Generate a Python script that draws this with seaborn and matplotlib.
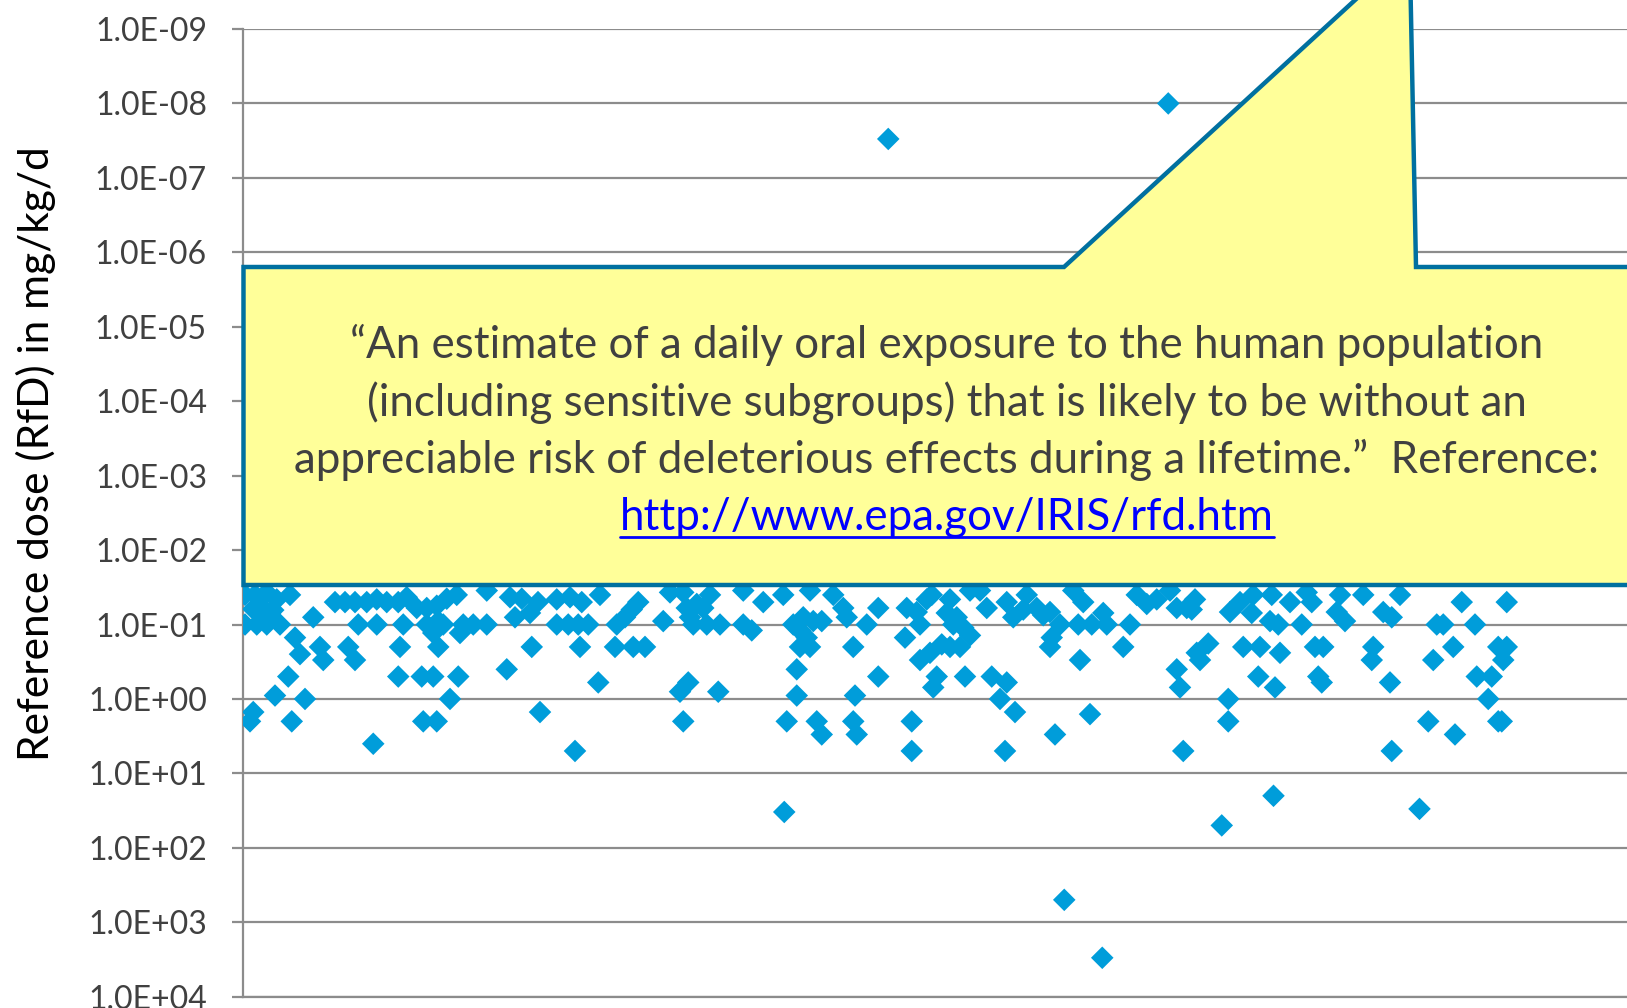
import matplotlib
matplotlib.use("Agg")
import matplotlib.pyplot as plt
import numpy as np
import pandas as pd
import seaborn as sns
from matplotlib.patches import Polygon
from matplotlib.lines import Line2D
from matplotlib.transforms import Affine2D
from matplotlib.ticker import FixedLocator, FuncFormatter, NullLocator

# ---- data: substance number along x, reference dose (mg/kg/d) ----
chem_index = [
    0.8, 4.8, 9.5, 13.5, 18.8, 4.1, 8.1, 12.1, 6.8, 10.8, 0.8, 5.5, 9.5, 14.8,
    28.1, 36.8, 40.8, 44.8, 49.5, 53.5, 57.5, 62.1, 65.5, 69.5, 73.5, 77.5, 81.5, 85.5,
    46.1, 53.5, 64.1, 73.5, 78.1, 80.1, 76.1, 78.1, 86.8, 88.1, 92.1, 97.5, 108.8, 114.8,
    97.5, 106.8, 111.5, 118.0, 20.8, 22.8, 30.8, 32.1, 42.1, 44.8, 62.8, 115.5,
    18.1, 62.1, 71.5, 76.1, 86.1, 105.5, 12.8, 24.8, 82.8, 4.1, 2.8, 19.5, 72.1, 77.5,
    118.8, 52.1,
    125.5, 130.8, 135.5, 125.5, 130.1, 134.1, 138.1, 142.8, 149.5, 152.8, 155.5, 158.1,
    168.1, 170.8, 176.1, 177.5, 181.5, 184.1, 178.8, 180.1, 185.5, 190.8, 186.8, 200.1,
    203.5, 200.1, 208.1, 216.1, 226.8, 220.1, 224.1, 228.1, 231.5, 222.8, 225.5, 222.8,
    226.8, 236.1, 240.1, 241.5, 249.5, 134.8, 148.8, 156.1, 160.8, 244.1, 221.5, 142.1,
    174.8, 178.1, 190.1, 221.5, 244.8, 176.1, 217.5, 229.5, 231.5, 244.1, 245.5, 132.8,
    254.1, 265.5, 269.5, 273.5, 270.8, 275.5, 264.8, 282.8, 281.5, 285.5, 284.1, 288.1,
    290.8, 297.5, 290.8, 294.8, 305.5, 308.1, 312.1, 313.5, 317.5, 320.1, 322.8, 326.8,
    323.5, 322.8, 332.1, 336.1, 334.1, 339.5, 344.1, 345.5, 354.8, 357.5, 361.5, 365.5,
    370.8, 373.5, 377.5, 352.1, 334.8, 270.8, 274.8, 279.5, 282.8, 286.8, 277.5, 276.1,
    254.1, 288.8, 299.5, 305.5, 302.8, 308.8, 373.5, 374.8, 381.5, 267.5, 338.8, 324.8,
    267.5, 304.8, 376.1,
    380.8, 379.5, 398.8, 394.8, 403.5, 404.1, 411.5, 410.8, 414.1, 418.8, 423.5, 427.5,
    425.5, 437.5, 440.8, 438.8, 448.1, 456.1, 459.5, 462.8, 477.5, 480.1, 487.5, 492.8,
    505.5, 386.1, 382.8, 400.1, 406.8, 414.8, 428.8, 432.1, 452.1, 451.5, 484.1, 476.1,
    502.1, 505.5, 504.1, 406.1, 412.8, 430.1, 431.5, 458.8, 493.5, 499.5, 498.1, 394.1,
    394.1, 474.1, 484.8, 502.1, 503.5, 459.5,
    216.5, 412.2, 391.5, 470.6, 328.5, 343.7, 258.1, 370.1,
]
rfd = [
    0.04, 0.04, 0.037, 0.046, 0.04, 0.062, 0.06, 0.064, 0.07, 0.072, 0.1, 0.1, 0.1, 0.1,
    0.08, 0.05, 0.05, 0.05, 0.05, 0.046, 0.05, 0.05, 0.043, 0.06, 0.06, 0.056, 0.045, 0.04,
    0.1, 0.1, 0.1, 0.1, 0.09, 0.1, 0.13, 0.2, 0.13, 0.1, 0.1, 0.1, 0.08, 0.07,
    0.035, 0.043, 0.045, 0.05, 0.15, 0.25, 0.2, 0.3, 0.2, 0.3, 0.2, 0.2,
    0.5, 0.5, 0.5, 0.5, 0.5, 0.4, 0.9, 1.0, 1.0, 1.5, 2.0, 2.0, 2.0, 2.0,
    1.5, 4.0,
    0.046, 0.043, 0.05, 0.1, 0.1, 0.1, 0.1, 0.04, 0.1, 0.08, 0.063, 0.05,
    0.09, 0.037, 0.037, 0.06, 0.053, 0.06, 0.08, 0.1, 0.1, 0.1, 0.04, 0.1,
    0.12, 0.035, 0.05, 0.04, 0.035, 0.1, 0.08, 0.09, 0.09, 0.12, 0.15, 0.2,
    0.2, 0.04, 0.06, 0.08, 0.1, 0.2, 0.2, 0.2, 0.2, 0.2, 0.4, 0.6,
    0.8, 0.6, 0.8, 0.9, 0.9, 2.0, 2.0, 2.0, 3.0, 2.0, 3.0, 5.0,
    0.06, 0.06, 0.068, 0.046, 0.1, 0.04, 0.15, 0.046, 0.07, 0.08, 0.1, 0.11,
    0.14, 0.06, 0.035, 0.035, 0.05, 0.08, 0.063, 0.04, 0.06, 0.075, 0.068, 0.1,
    0.15, 0.2, 0.035, 0.05, 0.1, 0.1, 0.07, 0.1, 0.1, 0.04, 0.053, 0.046,
    0.035, 0.06, 0.06, 0.2, 0.3, 0.3, 0.24, 0.185, 0.2, 0.2, 0.5, 0.7,
    0.5, 0.5, 0.5, 0.6, 1.0, 1.5, 0.4, 0.7, 0.24, 2.0, 1.6, 3.0,
    5.0, 5.0, 5.0,
    0.046, 0.063, 0.05, 0.068, 0.07, 0.04, 0.04, 0.09, 0.1, 0.05, 0.1, 0.05,
    0.037, 0.068, 0.09, 0.04, 0.04, 0.068, 0.08, 0.04, 0.1, 0.1, 0.05, 0.1,
    0.05, 0.18, 0.3, 0.2, 0.2, 0.24, 0.2, 0.2, 0.2, 0.3, 0.2, 0.3,
    0.2, 0.2, 0.3, 0.5, 0.7, 0.5, 0.6, 0.6, 0.5, 0.5, 1.0, 1.0,
    2.0, 2.0, 3.0, 2.0, 2.0, 5.0,
    33.0, 20.0, 50.0, 30.0, 500.0, 3000.0, 3e-8, 1e-8,
]
decades = list(range(-9, 5))
y_label = "Reference dose (RfD) in mg/kg/d"
callout_lines = [
    "\u201cAn estimate of a daily oral exposure to the human population",
    "(including sensitive subgroups) that is likely to be without an",
    "appreciable risk of deleterious effects during a lifetime.\u201d  Reference:",
]
callout_url = "http://www.epa.gov/IRIS/rfd.htm"

# ---- figure ----
W, H = 1627, 1008
sns.set_theme(style="white")
plt.rcParams["font.family"] = ["Lato", "DejaVu Sans"]

fig = plt.figure(figsize=(W / 100, H / 100), dpi=100)
fig.patch.set_facecolor("white")
top_px, bot_px, left_px = 29.0, 996.7, 243.0
ax = fig.add_axes([left_px / W, 1 - bot_px / H, 1 - left_px / W, (bot_px - top_px) / H])

df = pd.DataFrame({"chem": chem_index, "rfd": rfd})
sns.scatterplot(data=df, x="chem", y="rfd", marker="D", s=132, color="#009DDA",
                linewidth=0, edgecolor="none", ax=ax, legend=False, zorder=3)

grid_c = "#8C8C8C"
ax.set_yscale("log")
ax.set_ylim(10.0 ** decades[-1], 10.0 ** decades[0])
ax.set_xlim(0, (W - left_px) / 2.5)
ax.yaxis.set_major_locator(FixedLocator([10.0 ** k for k in decades]))
ax.yaxis.set_minor_locator(NullLocator())
ax.yaxis.set_major_formatter(FuncFormatter(lambda v, _: f"{v:.1E}"))
ax.set_xticks([])
ax.set_xlabel("")
ax.set_ylabel("")
ax.grid(axis="y", which="major", color=grid_c, linewidth=1.6)
ax.grid(axis="x", visible=False)
ax.set_axisbelow(True)
for side in ["top", "right"]:
    ax.spines[side].set_visible(False)
for side in ["left", "bottom"]:
    ax.spines[side].set_color(grid_c)
    ax.spines[side].set_linewidth(1.6)
ax.tick_params(axis="y", which="major", left=True, length=8, width=1.6, color=grid_c,
               pad=18, labelsize=23, labelcolor="#404040")

# pixel transform (origin at the top-left corner of the figure)
px = Affine2D().scale(1 / W, -1 / H).translate(0, 1) + fig.transFigure

fig.text(36, 454, y_label, transform=px, rotation=90, ha="center", va="center",
         fontsize=30.5, color="black")

# callout box with its pointer running off the top edge
callout = Polygon(
    [(243.5, 267), (1064, 267), (1366, -10), (1410.5, -10), (1416, 267),
     (1720, 267), (1720, 585), (243.5, 585)],
    closed=True, transform=px, facecolor="#FFFF99", edgecolor="#0070A0",
    linewidth=3.2, joinstyle="miter", zorder=5)
fig.add_artist(callout)

cx = 947
box_fs = 31.6
baselines = [358.3, 415.7, 473.1, 530.5]
for line, yb in zip(callout_lines, baselines[:3]):
    fig.text(cx, yb, line, transform=px, ha="center", va="baseline",
             fontsize=box_fs, color="#404040", zorder=6)
url_txt = fig.text(cx, baselines[3], callout_url, transform=px, ha="center",
                   va="baseline", fontsize=box_fs, color="#0000FF", zorder=6)

fig.canvas.draw()
bb = url_txt.get_window_extent(renderer=fig.canvas.get_renderer())
fig.add_artist(Line2D([bb.x0, bb.x1], [baselines[3] + 6, baselines[3] + 6],
                      transform=px, color="#0000FF", linewidth=2, zorder=6))

fig.savefig("out.png", dpi=100)
